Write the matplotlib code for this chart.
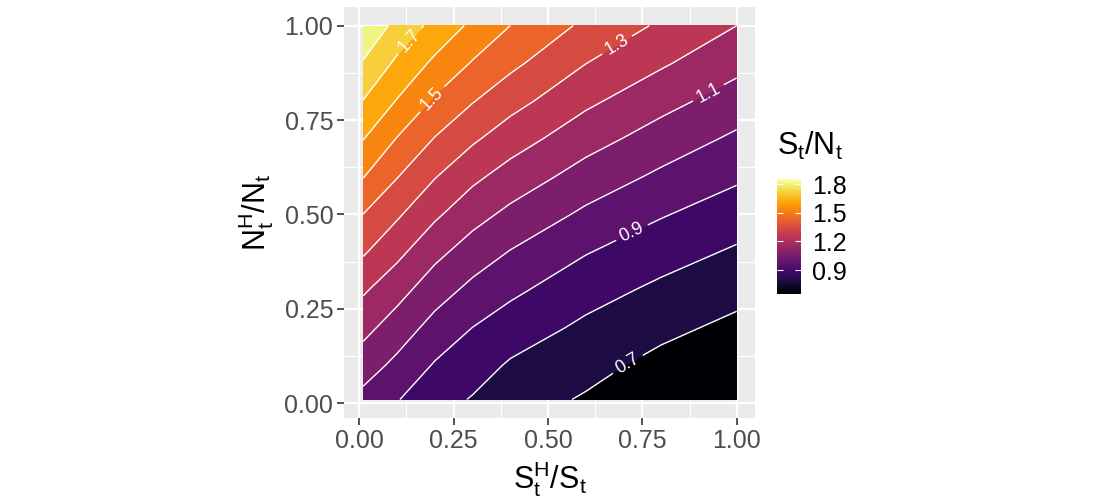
import numpy as np
import matplotlib
matplotlib.use("Agg")
import matplotlib.pyplot as plt
from matplotlib.colors import Normalize
from matplotlib.colorbar import ColorbarBase

plt.rcParams['font.family'] = ['Liberation Sans', 'DejaVu Sans']
plt.rcParams['mathtext.fontset'] = 'custom'
plt.rcParams['mathtext.rm'] = 'Liberation Sans'
plt.rcParams['mathtext.it'] = 'Liberation Sans:italic'

# grid: S^H/S (columns) and N^H/N (rows)
sh_share = [0.01, 0.1, 0.2, 0.3, 0.4, 0.6, 0.8, 1.0]
nh_share = [0.01, 0.1, 0.2, 0.3, 0.4, 0.5, 0.6, 0.7, 0.8, 0.9, 1.0]

# S_t/N_t along each column (bottom to top)
ratio_x001 = [0.970, 1.047, 1.130, 1.213, 1.311, 1.399, 1.504, 1.603, 1.697, 1.792, 1.885]
ratio_x010 = [0.905, 0.975, 1.053, 1.136, 1.225, 1.314, 1.404, 1.495, 1.594, 1.680, 1.771]
ratio_x020 = [0.840, 0.891, 0.965, 1.044, 1.127, 1.217, 1.305, 1.395, 1.486, 1.580, 1.670]
ratio_x030 = [0.793, 0.844, 0.899, 0.974, 1.053, 1.136, 1.222, 1.315, 1.405, 1.492, 1.580]
ratio_x040 = [0.745, 0.788, 0.853, 0.920, 0.995, 1.076, 1.159, 1.246, 1.336, 1.423, 1.500]
ratio_x060 = [0.690, 0.732, 0.780, 0.839, 0.905, 0.981, 1.059, 1.139, 1.220, 1.301, 1.380]
ratio_x080 = [0.620, 0.670, 0.725, 0.779, 0.841, 0.907, 0.981, 1.056, 1.132, 1.212, 1.285]
ratio_x100 = [0.570, 0.621, 0.676, 0.731, 0.787, 0.849, 0.915, 0.982, 1.055, 1.128, 1.200]

line_levels = [0.7, 0.8, 0.9, 1.0, 1.1, 1.2, 1.3, 1.4, 1.5, 1.6, 1.7, 1.8]
label_levels = [0.7, 0.9, 1.1, 1.3, 1.5, 1.7]
cbar_ticks = [0.9, 1.2, 1.5, 1.8]

Z = np.column_stack([ratio_x001, ratio_x010, ratio_x020, ratio_x030, ratio_x040,
                     ratio_x060, ratio_x080, ratio_x100])
X, Y = np.meshgrid(sh_share, nh_share)

cmap = plt.get_cmap('inferno')
bar_norm = Normalize(0.65, 1.85)
fill_norm = Normalize(0.6, 1.9)
fill_levels = [0.4] + line_levels + [2.1]
band_mids = [min(max((fill_levels[i] + fill_levels[i + 1]) / 2, 0.65), 1.85)
             for i in range(len(fill_levels) - 1)]
band_cols = [cmap(fill_norm(m)) for m in band_mids]
band_cols[0] = cmap(0.0)

fig = plt.figure(figsize=(11, 5), dpi=100)
ax = fig.add_axes([0.3131, 0.1636, 0.3736, 0.8224])
ax.set_facecolor('#EBEBEB')

lo, hi = -0.0395, 1.0495
ax.set_xlim(lo, hi)
ax.set_ylim(lo, hi)
ticks = [0, 0.25, 0.5, 0.75, 1.0]
ax.set_xticks(ticks)
ax.set_yticks(ticks)
ax.set_xticklabels(['%.2f' % t for t in ticks])
ax.set_yticklabels(['%.2f' % t for t in ticks])
ax.set_xticks([0.125, 0.375, 0.625, 0.875], minor=True)
ax.set_yticks([0.125, 0.375, 0.625, 0.875], minor=True)
ax.grid(which='major', color='white', linewidth=1.6)
ax.grid(which='minor', color='white', linewidth=0.8)
ax.set_axisbelow(True)
for s in ax.spines.values():
    s.set_visible(False)
ax.tick_params(which='major', length=5, width=1.2, color='#333333',
               labelsize=18, labelcolor='#4D4D4D', pad=3)
ax.tick_params(which='minor', length=0)

ax.contourf(X, Y, Z, levels=fill_levels, colors=band_cols, zorder=2)
plain_levels = [l for l in line_levels if l not in label_levels]
ax.contour(X, Y, Z, levels=plain_levels, colors='white', linewidths=1.0, zorder=3)
cs = ax.contour(X, Y, Z, levels=label_levels, colors='white', linewidths=1.0, zorder=3)

label_pos = [(0.723, 0.083), (0.723, 0.451), (0.924, 0.824),
             (0.683, 0.949), (0.187, 0.811), (0.116, 0.975)]
ax.clabel(cs, inline=True, fontsize=13, fmt='%.1f', colors='white',
          manual=label_pos)

ax.set_xlabel(r'$\mathrm{S_t^H/S_t}$', fontsize=22, labelpad=4)
ax.set_ylabel(r'$\mathrm{N_t^H/N_t}$', fontsize=22, labelpad=6)

cax = fig.add_axes([0.7066, 0.412, 0.0213, 0.2294])
cb = ColorbarBase(cax, cmap=cmap, norm=bar_norm, ticks=cbar_ticks)
cb.outline.set_visible(False)
cax.tick_params(left=True, right=True, labelleft=False, labelright=True,
                direction='in', color='white', length=4, width=0.8,
                labelsize=18, pad=8)
fig.text(0.7066, 0.675, r'$\mathrm{S_t/N_t}$', fontsize=22, va='bottom', ha='left')

fig.savefig('out.png', dpi=100)
